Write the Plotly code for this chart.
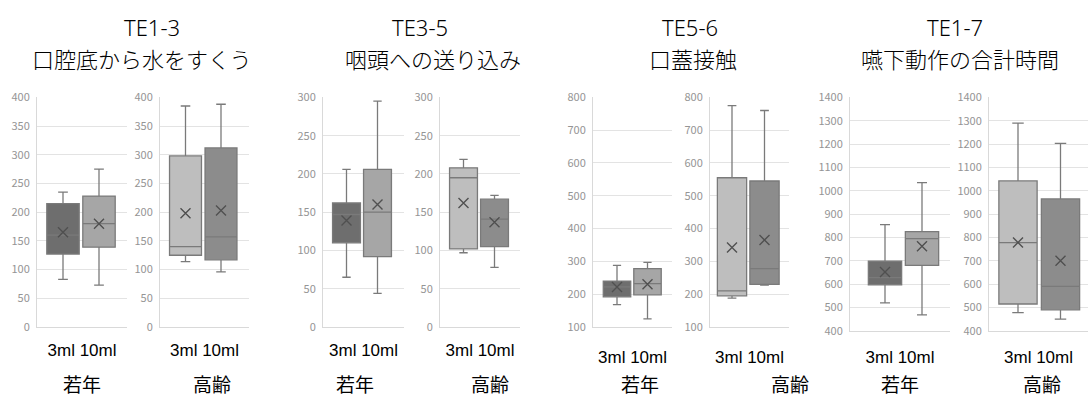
import plotly.graph_objects as go

# ---------------- data ----------------
categories = ["3ml", "10ml"]
groups = ["若年", "高齢"]
tests = ["TE1-3", "TE3-5", "TE5-6", "TE1-7"]
subtitles = ["口腔底から水をすくう", "咽頭への送り込み", "口蓋接触", "嚥下動作の合計時間"]

# one entry per panel (test x group), each [3ml, 10ml]
whisker_low = [[83, 73], [114, 96], [65, 44], [97, 78], [168, 125], [188, 228], [520, 468], [478, 450]]
q1 = [[127, 139], [125, 117], [110, 92], [102, 105], [192, 198], [195, 230], [597, 680], [515, 490]]
median = [[160, 180], [140, 157], [147, 150], [195, 141], [222, 232], [210, 278], [628, 795], [778, 590]]
q3 = [[215, 228], [298, 312], [162, 206], [208, 167], [240, 278], [555, 545], [698, 825], [1042, 965]]
whisker_high = [[235, 275], [385, 388], [206, 295], [219, 172], [288, 297], [775, 760], [855, 1035], [1290, 1203]]
mean = [[165, 180], [198, 203], [139, 160], [162, 137], [222, 230], [342, 365], [652, 762], [778, 700]]

y_ranges = [[0, 400], [0, 400], [0, 300], [0, 300], [100, 800], [100, 800], [400, 1400], [400, 1400]]
y_dticks = [50, 50, 50, 50, 100, 100, 100, 100]

# ---------------- layout geometry (pixels) ----------------
W, H = 1088, 407
panel_px = [(37, 127), (160, 249), (323, 404), (440, 520), (593, 672), (710, 789), (850, 950), (989, 1088)]
box_centers_px = [(63, 99), (185.5, 221), (346.5, 377.5), (463.5, 494.5), (617, 647.5), (732, 764.5), (885, 922), (1018, 1060.5)]
panel_bottom_px = [331, 331, 331, 331, 331, 331, 335, 335]
panel_top_px = 92
xlabel_standoff = [8, 8, 8, 8, 15, 15, 11, 11]

colors = {0: ["#6e6e6e", "#a6a6a6"], 1: ["#bebebe", "#8c8c8c"]}
line_color = "#7a7a7a"

fig = go.Figure()
layout = {}
for p in range(8):
    gi = p % 2
    n = p + 1
    xa = "x" if n == 1 else f"x{n}"
    ya = "y" if n == 1 else f"y{n}"
    for c in range(2):
        fig.add_trace(go.Box(
            x=[c], q1=[q1[p][c]], median=[median[p][c]], q3=[q3[p][c]],
            lowerfence=[whisker_low[p][c]], upperfence=[whisker_high[p][c]],
            fillcolor=colors[gi][c], line=dict(color=line_color, width=1.3),
            whiskerwidth=0.3, width=0.9, boxpoints=False, hoverinfo="skip",
            xaxis=xa, yaxis=ya, showlegend=False,
        ))
        fig.add_trace(go.Scatter(
            x=[c], y=[mean[p][c]], mode="markers",
            marker=dict(symbol="x-thin", size=10, line=dict(width=1.4, color="#505050")),
            xaxis=xa, yaxis=ya, showlegend=False, hoverinfo="skip",
        ))
    L, R = panel_px[p]
    c1, c2 = box_centers_px[p]
    d = c2 - c1
    r0 = -(c1 - L) / d
    r1 = 1 + (R - c2) / d
    bottom = panel_bottom_px[p]
    layout["xaxis" if n == 1 else f"xaxis{n}"] = dict(
        domain=[L / W, R / W], range=[r0, r1], anchor=ya,
        tickvals=[(r0 + r1) / 2], ticktext=[" ".join(categories)], tickangle=0,
        showgrid=False, zeroline=False,
        showline=True, linecolor="#d9d9d9", linewidth=1, ticks="",
        tickfont=dict(family="Liberation Sans, Arial", size=17, color="#000000"),
        ticklabelstandoff=xlabel_standoff[p], fixedrange=True,
    )
    layout["yaxis" if n == 1 else f"yaxis{n}"] = dict(
        domain=[1 - bottom / H, 1 - panel_top_px / H], range=y_ranges[p], anchor=xa,
        dtick=y_dticks[p], tick0=0, showgrid=True, gridcolor="#e3e3e3", gridwidth=1,
        zeroline=False, showline=True, linecolor="#d9d9d9", linewidth=1, ticks="",
        tickfont=dict(family="Noto Sans CJK JP", size=11, color="#959595"),
        ticklabelstandoff=4, fixedrange=True,
    )

annotations = []
title_x = [152, 420, 690, 955]
subtitle_x = [142, 433, 693, 960]
for t in range(4):
    annotations.append(dict(text=tests[t], x=title_x[t] / W, y=1 - 19 / H, xref="paper", yref="paper",
                            showarrow=False, xanchor="center", yanchor="middle",
                            font=dict(family="Noto Sans", size=22, color="#000000", weight=300)))
    annotations.append(dict(text=subtitles[t], x=subtitle_x[t] / W, y=1 - 51 / H, xref="paper", yref="paper",
                            showarrow=False, xanchor="center", yanchor="middle",
                            font=dict(family="Noto Sans CJK JP", size=22, color="#000000", weight=300)))
group_label_x = [82, 212, 355, 490, 640, 790, 900, 1042]
for p in range(8):
    annotations.append(dict(text=groups[p % 2], x=group_label_x[p] / W, y=1 - 390 / H, xref="paper", yref="paper",
                            showarrow=False, xanchor="center", yanchor="middle",
                            font=dict(family="Noto Sans CJK JP", size=19, color="#000000")))

fig.update_layout(
    width=W, height=H, margin=dict(l=0, r=0, t=0, b=0),
    paper_bgcolor="#ffffff", plot_bgcolor="#ffffff",
    annotations=annotations, boxmode="overlay", **layout,
)
fig.write_html("out.html", config={"displayModeBar": False},
               post_script="document.body.style.margin='0';document.body.style.overflow='hidden';")
